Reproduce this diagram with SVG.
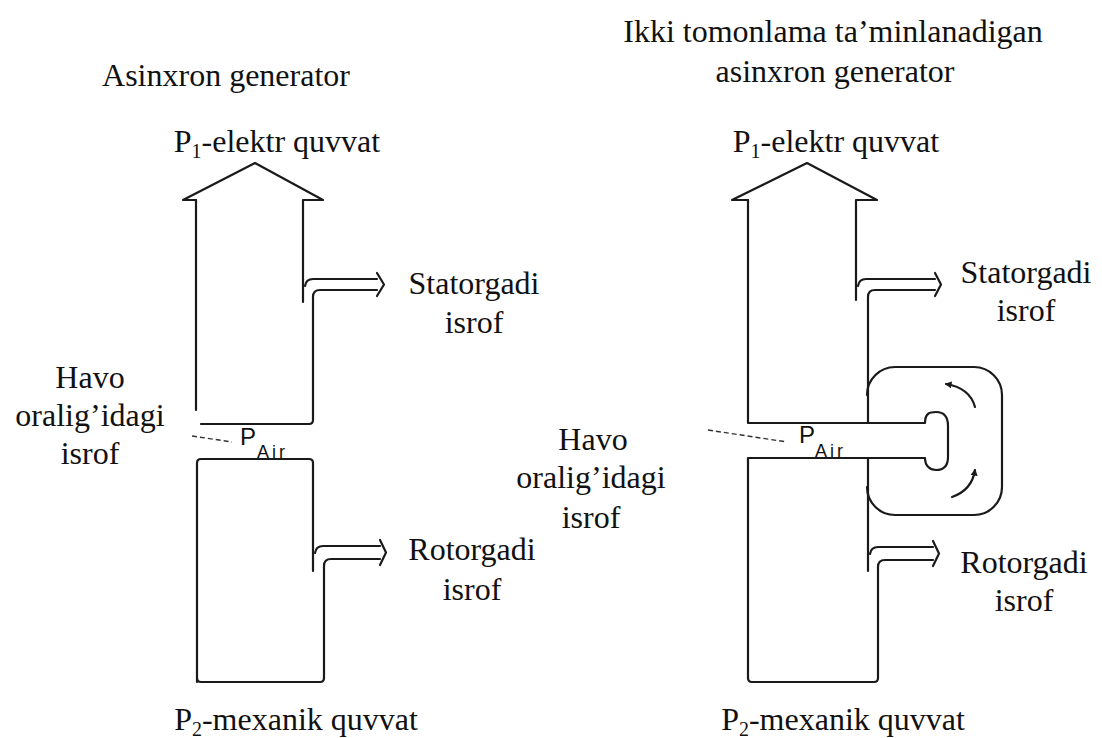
<svg xmlns="http://www.w3.org/2000/svg" width="1102" height="738" viewBox="0 0 1102 738">
<style>
.ln{fill:none;stroke:#1a1a1a;stroke-width:2.2;stroke-linejoin:round;stroke-linecap:round}
.ld{fill:none;stroke:#333;stroke-width:1.4;stroke-dasharray:5 3}
.t{font-family:"Liberation Serif","Times New Roman",serif;font-size:32px;fill:#111;text-anchor:middle}
.sub{font-size:20px}
.pa{font-family:"Liberation Sans",Arial,sans-serif;fill:#111}
</style>
<defs>
<marker id="ah" viewBox="0 0 10 10" refX="8" refY="5" markerWidth="7" markerHeight="7" orient="auto" markerUnits="userSpaceOnUse">
<path d="M0 0 L10 5 L0 10 Z" fill="#1a1a1a"/>
</marker>
</defs>
<rect width="1102" height="738" fill="#fff"/>

<g id="title-left"><text class="t" x="226" y="86">Asinxron generator</text></g>
<g id="title-right">
<text class="t" x="833" y="42">Ikki tomonlama ta’minlanadigan</text>
<text class="t" x="835" y="82">asinxron generator</text>
</g>

<g id="left-generator">
<path class="ln" d="M196 200 L183 200 L255 163 L323 200 L303 200 L303 302"/>
<path class="ln" d="M196 200 L196 410"/>
<path class="ln" d="M201 424 L309 424 Q313 424 313 420 L313 297 Q313 290 320 290 L377 290"/>
<path class="ln" d="M197 682 L197 463 Q197 459 201 459 L309 459 Q313 459 313 463 L313 571"/>
<path class="ln" d="M197 678 Q197 682 201 682 L320 682 Q324 682 324 678 L324 566 Q324 559 331 559 L380 559"/>
<text class="pa" x="240" y="445" font-size="24">P</text>
<text class="pa" x="257" y="458" font-size="18" letter-spacing="3">Air</text>
</g>

<g id="right-generator">
<path class="ln" d="M748 200 L732 200 L807 163 L877 200 L856 200 L856 300"/>
<path class="ln" d="M748 200 L748 423 L925 423 C925 413 930 412 936 412 C945 412 948 418 948 426 L948 457 C948 466 944 470 936 470 C930 470 925 466 925 458 L748 458 L748 678 Q748 682 752 682 L874 682 Q878 682 878 678 L878 567 Q878 560 885 560 L933 560"/>
<path class="ln" d="M935 290 L875 290 Q868 290 868 297 L868 423"/>
<path class="ln" d="M868 458 L868 571"/>
<path class="ln" d="M867 395 A28 28 0 0 1 895 367 L974 367 A28 28 0 0 1 1002 395 L1002 487 A28 28 0 0 1 974 515 L895 515 A28 28 0 0 1 867 487"/>
<path class="ln" d="M975 407 Q970 388 946 384" marker-end="url(#ah)"/>
<path class="ln" d="M952 497 Q972 490 975 470" marker-end="url(#ah)"/>
<text class="pa" x="799" y="443" font-size="24">P</text>
<text class="pa" x="815" y="457" font-size="18" letter-spacing="3">Air</text>
</g>

<g id="connectors">
<path class="ln" d="M305 286 Q306 279 313 279 L377 279"/>
<path class="ln" d="M377 273 L384 284.5 L377 296"/>
<path class="ln" d="M315 553 Q316 546 323 546 L380 546"/>
<path class="ln" d="M380 540 L386 552.5 L380 565"/>
<path class="ln" d="M858 286 Q859 279 866 279 L935 279"/>
<path class="ln" d="M935 273 L941 284.5 L935 296"/>
<path class="ln" d="M870 554 Q871 547 878 547 L933 547"/>
<path class="ln" d="M933 541 L939 553.5 L933 566"/>
<path class="ld" d="M192 436 L232 442"/>
<path class="ld" d="M708 430 L787 442"/>
</g>

<g id="labels-left">
<text class="t" x="277" y="152">P<tspan class="sub" dy="6">1</tspan><tspan dy="-6">-elektr quvvat</tspan></text>
<text class="t" x="474" y="294">Statorgadi</text>
<text class="t" x="474" y="333">isrof</text>
<text class="t" x="90" y="388">Havo</text>
<text class="t" x="90" y="426">oralig’idagi</text>
<text class="t" x="90" y="464">isrof</text>
<text class="t" x="472" y="560">Rotorgadi</text>
<text class="t" x="472" y="600">isrof</text>
<text class="t" x="296" y="730">P<tspan class="sub" dy="6">2</tspan><tspan dy="-6">-mexanik quvvat</tspan></text>
</g>

<g id="labels-right">
<text class="t" x="836" y="152">P<tspan class="sub" dy="6">1</tspan><tspan dy="-6">-elektr quvvat</tspan></text>
<text class="t" x="1026" y="283">Statorgadi</text>
<text class="t" x="1026" y="321">isrof</text>
<text class="t" x="593" y="450">Havo</text>
<text class="t" x="591" y="488">oralig’idagi</text>
<text class="t" x="591" y="528">isrof</text>
<text class="t" x="1024" y="573">Rotorgadi</text>
<text class="t" x="1024" y="611">isrof</text>
<text class="t" x="843" y="730">P<tspan class="sub" dy="6">2</tspan><tspan dy="-6">-mexanik quvvat</tspan></text>
</g>
</svg>
